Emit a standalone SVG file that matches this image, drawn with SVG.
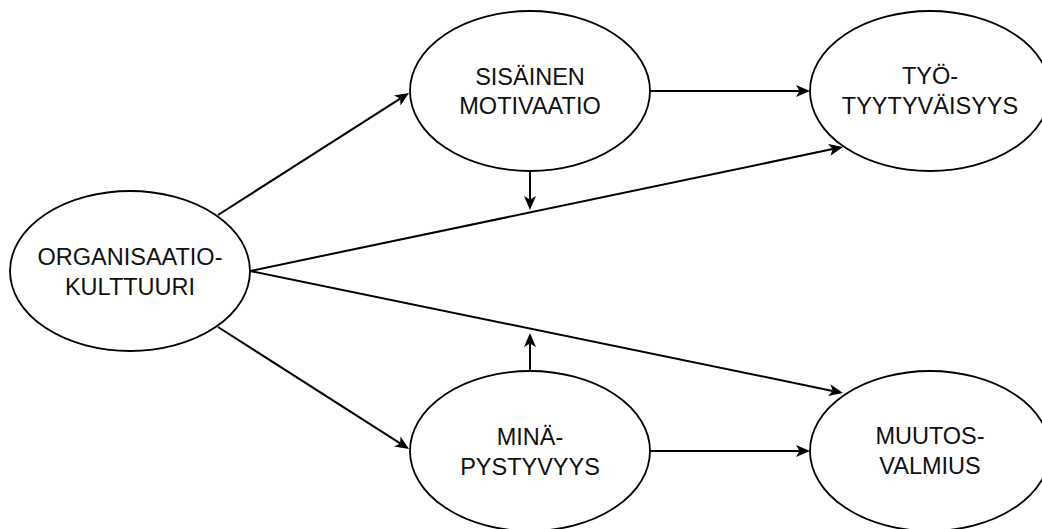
<svg xmlns="http://www.w3.org/2000/svg" width="1042" height="529" viewBox="0 0 1042 529">
<style>
.node ellipse{fill:#fff;stroke:#000;stroke-width:1.8}
.node text{font-family:"Liberation Sans",Arial,sans-serif;font-size:23.5px;fill:#111;text-anchor:middle}
.edges line{stroke:#000;stroke-width:2;fill:none}
</style>
<defs>
<marker id="arr" markerUnits="userSpaceOnUse" markerWidth="18" markerHeight="16" refX="3.5" refY="6" orient="auto" overflow="visible">
<path d="M0,0 L14,6 L0,12 L3.5,6 Z" fill="#000"/>
</marker>
</defs>
<rect width="1042" height="529" fill="#fff"/>
<g id="edges" class="edges">
<line x1="218" y1="215" x2="400.2" y2="98.6" marker-end="url(#arr)"/>
<line x1="218" y1="327" x2="400.2" y2="443.4" marker-end="url(#arr)"/>
<line x1="250" y1="271" x2="832.7" y2="149.1" marker-end="url(#arr)"/>
<line x1="250" y1="271" x2="832.7" y2="390.9" marker-end="url(#arr)"/>
<line x1="650" y1="91" x2="799.5" y2="91" marker-end="url(#arr)"/>
<line x1="650" y1="451" x2="799.5" y2="451" marker-end="url(#arr)"/>
<line x1="530" y1="171" x2="530" y2="199.5" marker-end="url(#arr)"/>
<line x1="530" y1="371" x2="530" y2="343.5" marker-end="url(#arr)"/>
</g>
<g id="organisaatiokulttuuri" class="node">
<ellipse cx="130" cy="271" rx="120" ry="80"/>
<text x="130" y="265">ORGANISAATIO-</text>
<text x="130" y="294.5">KULTTUURI</text>
</g>
<g id="sisainen-motivaatio" class="node">
<ellipse cx="530" cy="91" rx="120" ry="80"/>
<text x="530" y="84.5">SISÄINEN</text>
<text x="530" y="114">MOTIVAATIO</text>
</g>
<g id="tyotyytyvaisyys" class="node">
<ellipse cx="930" cy="91" rx="120" ry="80"/>
<text x="930" y="84">TYÖ-</text>
<text x="930" y="113.5">TYYTYVÄISYYS</text>
</g>
<g id="minapystyvyys" class="node">
<ellipse cx="530" cy="451" rx="120" ry="80"/>
<text x="530" y="444.5">MINÄ-</text>
<text x="530" y="474.5">PYSTYVYYS</text>
</g>
<g id="muutosvalmius" class="node">
<ellipse cx="930" cy="451" rx="120" ry="80"/>
<text x="930" y="443.5">MUUTOS-</text>
<text x="930" y="473.5">VALMIUS</text>
</g>
</svg>
